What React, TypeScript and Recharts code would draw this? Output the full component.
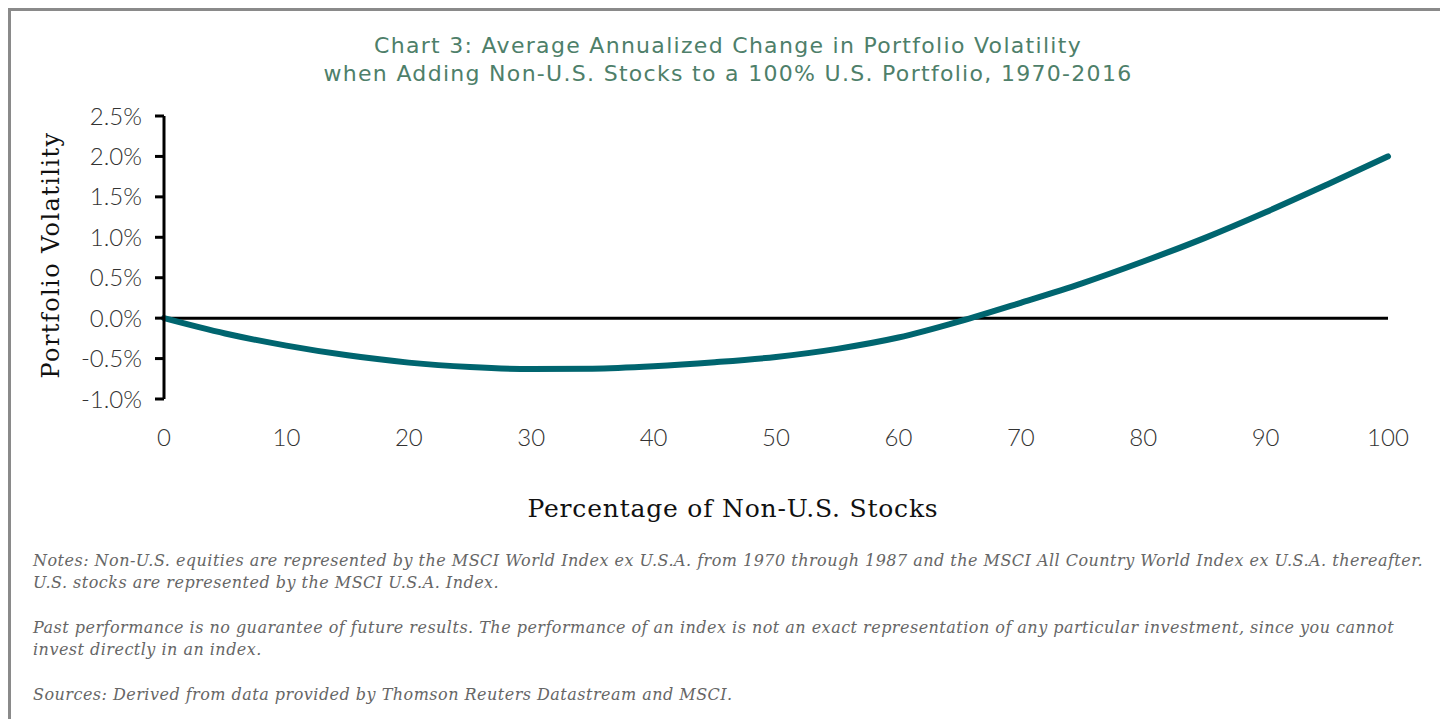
import React from 'react'
import { LineChart, Line, XAxis, YAxis, ReferenceLine } from 'recharts'

// Share of non-U.S. stocks in the portfolio (%), step 5
const pctNonUS = [0, 5, 10, 15, 20, 25, 30, 35, 40, 45, 50, 55, 60, 65, 70, 75, 80, 85, 90, 95, 100]
// Average annualized change in portfolio volatility (%)
const volChange = [
  0, -0.19, -0.34, -0.46, -0.55, -0.605, -0.63, -0.625, -0.595, -0.545, -0.48, -0.38, -0.24, -0.04,
  0.19, 0.43, 0.7, 0.99, 1.31, 1.65, 2.0,
]

const xTicks = [0, 10, 20, 30, 40, 50, 60, 70, 80, 90, 100]
const yTicks = [-1, -0.5, 0, 0.5, 1, 1.5, 2, 2.5]

const titleLines = [
  'Chart 3: Average Annualized Change in Portfolio Volatility',
  'when Adding Non-U.S. Stocks to a 100% U.S. Portfolio, 1970-2016',
]
const yTitle = 'Portfolio Volatility'
const xTitle = 'Percentage of Non-U.S. Stocks'

const notes = [
  [
    'Notes: Non-U.S. equities are represented by the MSCI World Index ex U.S.A. from 1970 through 1987 and the MSCI All Country World Index ex U.S.A. thereafter.',
    'U.S. stocks are represented by the MSCI U.S.A. Index.',
  ],
  [
    'Past performance is no guarantee of future results. The performance of an index is not an exact representation of any particular investment, since you cannot',
    'invest directly in an index.',
  ],
  ['Sources: Derived from data provided by Thomson Reuters Datastream and MSCI.'],
]

const data = pctNonUS.map((p, i) => ({ pct: p, vol: volChange[i] }))

const LINE = '#00656f'
const TITLE = '#4e7f6a'
const tickFont = { fontFamily: 'Lato, sans-serif', fontWeight: 300, fontSize: 24, fill: '#333' }
const slab = '"DejaVu Serif", serif'

export default function App() {
  return (
    <div style={{ position: 'relative', width: 1440, height: 719, overflow: 'hidden', background: '#fff' }}>
      <style>{'body{margin:0}'}</style>
      {/* grey frame, only top and left show in the crop */}
      <div
        style={{
          position: 'absolute', left: 8, top: 8, width: 1460, height: 760,
          borderTop: '3px solid #8a8a8a', borderLeft: '3px solid #8a8a8a',
        }}
      />

      <div
        style={{
          position: 'absolute', left: 0, top: 32, width: 1456, textAlign: 'center',
          fontFamily: '"DejaVu Sans", sans-serif', fontSize: 22, lineHeight: '28px', color: TITLE,
          letterSpacing: 1.3,
        }}
      >
        {titleLines.map((t) => (
          <div key={t}>{t}</div>
        ))}
      </div>

      <div style={{ position: 'absolute', left: 0, top: 0 }}>
        <LineChart width={1440} height={470} data={data} margin={{ top: 116, right: 52, left: 0, bottom: 0 }}>
          <XAxis
            dataKey="pct"
            type="number"
            domain={[0, 100]}
            ticks={xTicks}
            axisLine={false}
            tickLine={false}
            tickSize={0}
            tickMargin={30}
            height={71}
            tick={tickFont}
            interval={0}
          />
          <YAxis
            type="number"
            domain={[-1, 2.5]}
            ticks={yTicks}
            width={164}
            interval={0}
            axisLine={{ stroke: '#000', strokeWidth: 3 }}
            tickLine={{ stroke: '#000', strokeWidth: 3 }}
            tickSize={9}
            tickMargin={13}
            tick={tickFont}
            tickFormatter={(v: number) => `${v.toFixed(1)}%`}
          />
          <ReferenceLine y={0} stroke="#000" strokeWidth={3} />
          <Line
            type="monotone"
            dataKey="vol"
            stroke={LINE}
            strokeWidth={6}
            strokeLinecap="round"
            dot={false}
            activeDot={false}
            isAnimationActive={false}
          />
        </LineChart>
      </div>

      <div
        style={{
          position: 'absolute', left: 51, top: 255, transform: 'translate(-50%, -50%) rotate(-90deg)',
          whiteSpace: 'nowrap', fontFamily: slab, fontSize: 24, letterSpacing: 1.4, color: '#111',
        }}
      >
        {yTitle}
      </div>

      <div
        style={{
          position: 'absolute', left: 733, top: 508, transform: 'translate(-50%, -50%)',
          whiteSpace: 'nowrap', fontFamily: slab, fontSize: 25, letterSpacing: 0.8, color: '#111',
        }}
      >
        {xTitle}
      </div>

      <div
        style={{
          position: 'absolute', left: 33, top: 550, whiteSpace: 'nowrap',
          fontFamily: slab, fontStyle: 'italic', fontSize: 16, letterSpacing: 0.48,
          lineHeight: '22px', color: '#666',
        }}
      >
        {notes.map((para, i) => (
          <div key={i} style={{ marginBottom: 23 }}>
            {para.map((l) => (
              <div key={l}>{l}</div>
            ))}
          </div>
        ))}
      </div>
    </div>
  )
}
